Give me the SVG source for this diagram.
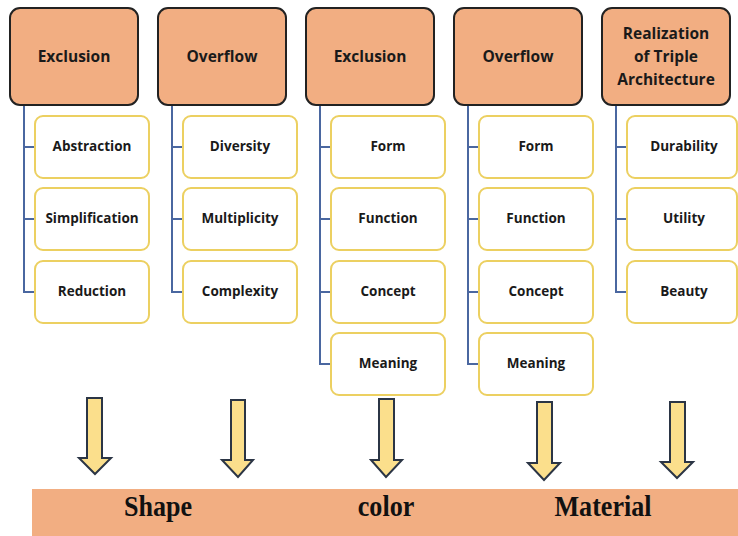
<svg xmlns="http://www.w3.org/2000/svg" width="738" height="536" viewBox="0 0 738 536">
  <style>
    .head rect { fill: #f2ae82; stroke: #222; stroke-width: 2; }
    .head text { font-family: "Open Sans", "Noto Sans", sans-serif; font-weight: bold; font-size: 15.5px; fill: #1a1a1a; text-anchor: middle; dominant-baseline: central; }
    .item rect { fill: #fff; stroke: #ecd061; stroke-width: 2; }
    .item text { font-family: "Open Sans", "Noto Sans", sans-serif; font-weight: bold; font-size: 13.5px; fill: #1a1a1a; text-anchor: middle; dominant-baseline: central; }
    .links path { fill: none; stroke: #4a67a0; stroke-width: 2; }
    .arrow { fill: #fbdf8c; stroke: #2b3545; stroke-width: 2; stroke-linejoin: miter; }
    .band text { font-family: "Liberation Serif", "Times New Roman", serif; font-weight: bold; font-size: 29px; fill: #111; text-anchor: middle; }
  </style>

  <!-- connectors -->
  <g id="connectors" class="links">
    <path d="M24 105 V292 H35 M24 147 H35 M24 219 H35"/>
    <path d="M172 105 V292 H183 M172 147 H183 M172 219 H183"/>
    <path d="M320 105 V364 H331 M320 147 H331 M320 219 H331 M320 292 H331"/>
    <path d="M468 105 V364 H479 M468 147 H479 M468 219 H479 M468 292 H479"/>
    <path d="M616 105 V292 H627 M616 147 H627 M616 219 H627"/>
  </g>

  <!-- column 1 -->
  <g id="h1" class="head"><rect x="10" y="8" width="128" height="97" rx="10"/><text x="74" y="56">Exclusion</text></g>
  <g id="c1r1" class="item"><rect x="35" y="116" width="114" height="62" rx="8"/><text x="92" y="146">Abstraction</text></g>
  <g id="c1r2" class="item"><rect x="35" y="188" width="114" height="62" rx="8"/><text x="92" y="218">Simplification</text></g>
  <g id="c1r3" class="item"><rect x="35" y="261" width="114" height="62" rx="8"/><text x="92" y="291">Reduction</text></g>

  <!-- column 2 -->
  <g id="h2" class="head"><rect x="158" y="8" width="128" height="97" rx="10"/><text x="222" y="56">Overflow</text></g>
  <g id="c2r1" class="item"><rect x="183" y="116" width="114" height="62" rx="8"/><text x="240" y="146">Diversity</text></g>
  <g id="c2r2" class="item"><rect x="183" y="188" width="114" height="62" rx="8"/><text x="240" y="218">Multiplicity</text></g>
  <g id="c2r3" class="item"><rect x="183" y="261" width="114" height="62" rx="8"/><text x="240" y="291">Complexity</text></g>

  <!-- column 3 -->
  <g id="h3" class="head"><rect x="306" y="8" width="128" height="97" rx="10"/><text x="370" y="56">Exclusion</text></g>
  <g id="c3r1" class="item"><rect x="331" y="116" width="114" height="62" rx="8"/><text x="388" y="146">Form</text></g>
  <g id="c3r2" class="item"><rect x="331" y="188" width="114" height="62" rx="8"/><text x="388" y="218">Function</text></g>
  <g id="c3r3" class="item"><rect x="331" y="261" width="114" height="62" rx="8"/><text x="388" y="291">Concept</text></g>
  <g id="c3r4" class="item"><rect x="331" y="333" width="114" height="62" rx="8"/><text x="388" y="363">Meaning</text></g>

  <!-- column 4 -->
  <g id="h4" class="head"><rect x="454" y="8" width="128" height="97" rx="10"/><text x="518" y="56">Overflow</text></g>
  <g id="c4r1" class="item"><rect x="479" y="116" width="114" height="62" rx="8"/><text x="536" y="146">Form</text></g>
  <g id="c4r2" class="item"><rect x="479" y="188" width="114" height="62" rx="8"/><text x="536" y="218">Function</text></g>
  <g id="c4r3" class="item"><rect x="479" y="261" width="114" height="62" rx="8"/><text x="536" y="291">Concept</text></g>
  <g id="c4r4" class="item"><rect x="479" y="333" width="114" height="62" rx="8"/><text x="536" y="363">Meaning</text></g>

  <!-- column 5 -->
  <g id="h5" class="head"><rect x="602" y="8" width="128" height="97" rx="10"/>
    <text x="666" y="33">Realization</text><text x="666" y="56">of Triple</text><text x="666" y="79">Architecture</text></g>
  <g id="c5r1" class="item"><rect x="627" y="116" width="110" height="62" rx="8"/><text x="684" y="146">Durability</text></g>
  <g id="c5r2" class="item"><rect x="627" y="188" width="110" height="62" rx="8"/><text x="684" y="218">Utility</text></g>
  <g id="c5r3" class="item"><rect x="627" y="261" width="110" height="62" rx="8"/><text x="684" y="291">Beauty</text></g>

  <!-- downward block arrows -->
  <g id="arrows">
    <path class="arrow" d="M87 398 H102 V458 H111 L95 474 L79 458 H87 Z"/>
    <path class="arrow" d="M231 400 H245 V460 H253 L238 477 L222 460 H231 Z"/>
    <path class="arrow" d="M379 399 H394 V460 H402 L386 477 L371 460 H379 Z"/>
    <path class="arrow" d="M537 402 H552 V463 H560 L544 480 L528 463 H537 Z"/>
    <path class="arrow" d="M670 402 H685 V462 H693 L677 478 L661 462 H670 Z"/>
  </g>

  <!-- bottom band -->
  <g id="band" class="band">
    <rect x="32" y="489" width="706" height="47" fill="#f2ae82"/>
    <text transform="translate(158 516) scale(0.9 1)">Shape</text>
    <text transform="translate(386 516) scale(0.9 1)">color</text>
    <text transform="translate(603 516) scale(0.9 1)">Material</text>
  </g>
</svg>
